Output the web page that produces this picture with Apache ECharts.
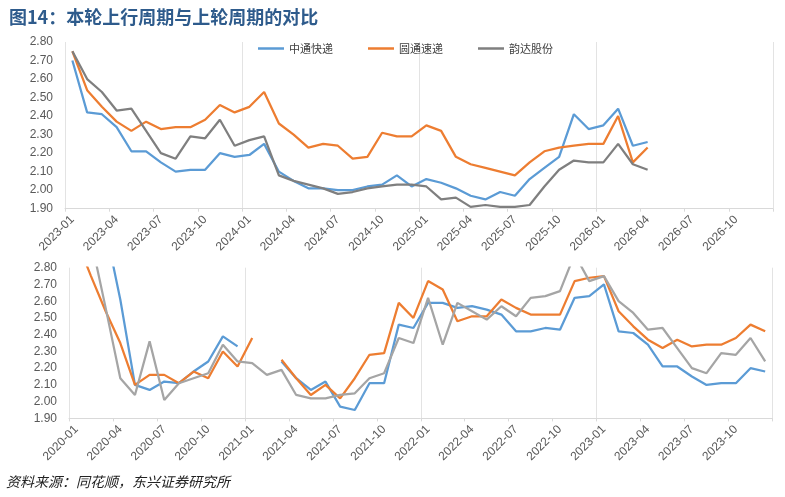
<!DOCTYPE html>
<html>
<head>
<meta charset="utf-8">
<script src="https://cdn.jsdelivr.net/npm/echarts@6/dist/echarts.min.js"></script>
<style>
html,body{margin:0;padding:0;background:#fff;}
#c{width:785px;height:497px;}
</style>
</head>
<body>
<div id="c"></div>
<script>
// ---- Data ----
var titleText = '图14：本轮上行周期与上轮周期的对比';
var sourceText = '资料来源：同花顺，东兴证券研究所';
var seriesNames = ['中通快递', '圆通速递', '韵达股份'];

// Top panel: 2023-01 .. 2026-12
var topMonths = [
 '2023-01','2023-02','2023-03','2023-04','2023-05','2023-06','2023-07','2023-08','2023-09','2023-10','2023-11','2023-12',
 '2024-01','2024-02','2024-03','2024-04','2024-05','2024-06','2024-07','2024-08','2024-09','2024-10','2024-11','2024-12',
 '2025-01','2025-02','2025-03','2025-04','2025-05','2025-06','2025-07','2025-08','2025-09','2025-10','2025-11','2025-12',
 '2026-01','2026-02','2026-03','2026-04','2026-05','2026-06','2026-07','2026-08','2026-09','2026-10','2026-11','2026-12'
];
var topZto = [
 2.70,2.42,2.41,2.34,2.21,2.21,2.15,2.10,2.11,2.11,2.20,2.18,
 2.19,2.25,2.10,2.05,2.01,2.01,2.00,2.00,2.02,2.03,2.08,2.02,
 2.06,2.04,2.01,1.97,1.95,1.99,1.97,2.06,2.12,2.18,2.41,2.33,
 2.35,2.44,2.24,2.26
];
var topYto = [
 2.75,2.54,2.45,2.37,2.32,2.37,2.33,2.34,2.34,2.38,2.46,2.42,
 2.45,2.53,2.36,2.30,2.23,2.25,2.24,2.17,2.18,2.31,2.29,2.29,
 2.35,2.32,2.18,2.14,2.12,2.10,2.08,2.15,2.21,2.23,2.24,2.25,
 2.25,2.40,2.15,2.23
];
var topYunda = [
 2.75,2.60,2.53,2.43,2.44,2.32,2.20,2.17,2.29,2.28,2.38,2.24,
 2.27,2.29,2.08,2.05,2.03,2.01,1.98,1.99,2.01,2.02,2.03,2.03,
 2.02,1.95,1.96,1.91,1.92,1.91,1.91,1.92,2.02,2.11,2.16,2.15,
 2.15,2.25,2.14,2.11
];

// Bottom panel: 2020-01 .. 2023-12
var botMonths = [
 '2020-01','2020-02','2020-03','2020-04','2020-05','2020-06','2020-07','2020-08','2020-09','2020-10','2020-11','2020-12',
 '2021-01','2021-02','2021-03','2021-04','2021-05','2021-06','2021-07','2021-08','2021-09','2021-10','2021-11','2021-12',
 '2022-01','2022-02','2022-03','2022-04','2022-05','2022-06','2022-07','2022-08','2022-09','2022-10','2022-11','2022-12',
 '2023-01','2023-02','2023-03','2023-04','2023-05','2023-06','2023-07','2023-08','2023-09','2023-10','2023-11','2023-12'
];
var botZto = [
 3.25,3.15,3.03,2.61,2.10,2.07,2.12,2.11,2.18,2.24,2.39,2.33,
 null,null,2.24,2.14,2.07,2.12,1.97,1.95,2.11,2.11,2.46,2.44,
 2.59,2.59,2.56,2.57,2.55,2.52,2.42,2.42,2.44,2.43,2.62,2.63,
 2.70,2.42,2.41,2.34,2.21,2.21,2.15,2.10,2.11,2.11,2.20,2.18
];
var botYto = [
 2.97,2.75,2.54,2.35,2.10,2.16,2.16,2.11,2.18,2.14,2.30,2.21,
 2.38,null,2.25,2.14,2.04,2.10,2.02,2.14,2.28,2.29,2.59,2.50,
 2.72,2.67,2.48,2.51,2.51,2.61,2.56,2.52,2.52,2.52,2.72,2.74,
 2.75,2.54,2.45,2.37,2.32,2.37,2.33,2.34,2.34,2.38,2.46,2.42
];
var botYunda = [
 3.05,2.97,2.56,2.14,2.04,2.36,2.01,2.11,2.14,2.17,2.34,2.24,
 2.23,2.16,2.19,2.04,2.02,2.02,2.04,2.05,2.14,2.17,2.38,2.35,
 2.62,2.34,2.59,2.54,2.49,2.57,2.51,2.62,2.63,2.66,2.88,2.72,
 2.75,2.60,2.53,2.43,2.44,2.32,2.20,2.17,2.29,2.28,2.38,2.24
];

// ---- Styles ----
var cBlue = '#5B9BD5', cOrange = '#ED7D31', cGrayDark = '#7F7F7F', cGrayLight = '#A5A5A5';
var gridLine = '#E3E3E3';
var labelColor = '#595959';
var numFont = '"Liberation Sans", Arial, sans-serif';

function xAxisCfg(gridIndex, cats) {
  return {
    type: 'category', gridIndex: gridIndex, data: cats, boundaryGap: true,
    axisLine: { show: true, lineStyle: { color: '#D9D9D9', width: 1 } },
    axisTick: { show: true, interval: 2, length: 3, lineStyle: { color: '#D9D9D9' } },
    axisLabel: { interval: 2, rotate: 45, color: labelColor, fontSize: 12, fontFamily: numFont, margin: 9 },
    splitLine: { show: true, interval: 11, lineStyle: { color: gridLine, width: 1 } }
  };
}
function yAxisCfg(gridIndex) {
  return {
    type: 'value', gridIndex: gridIndex, min: 1.9, max: 2.8, interval: 0.1,
    axisLine: { show: false }, axisTick: { show: false }, splitLine: { show: false },
    axisLabel: { color: labelColor, fontSize: 12, fontFamily: numFont, margin: 12,
      formatter: function (v) { return v.toFixed(2); } }
  };
}
function lineSeries(name, data, color, xi) {
  return {
    name: name, type: 'line', data: data, xAxisIndex: xi, yAxisIndex: xi,
    symbol: 'none', clip: true, connectNulls: false,
    lineStyle: { color: color, width: 2.25 }, itemStyle: { color: color }
  };
}

var chart = echarts.init(document.getElementById('c'), null, { renderer: 'canvas' });
chart.setOption({
  backgroundColor: '#ffffff',
  animation: false,
  title: {
    text: titleText, left: 4, top: 3,
    textStyle: { color: '#2E5B8C', fontSize: 18, fontWeight: 'bold', fontFamily: '"Noto Sans CJK SC", sans-serif' }
  },
  legend: {
    data: seriesNames, left: 253, top: 38, icon: 'rect', itemWidth: 26, itemHeight: 2.5, itemGap: 35,
    textStyle: { color: '#404040', fontSize: 11, fontFamily: '"Noto Sans CJK SC", sans-serif' }
  },
  grid: [
    { left: 65, right: 12, top: 42, height: 166.7 },
    { left: 69, right: 12.5, top: 267.7, height: 150.7 }
  ],
  xAxis: [xAxisCfg(0, topMonths), xAxisCfg(1, botMonths)],
  yAxis: [yAxisCfg(0), yAxisCfg(1)],
  series: [
    lineSeries(seriesNames[0], topZto, cBlue, 0),
    lineSeries(seriesNames[1], topYto, cOrange, 0),
    lineSeries(seriesNames[2], topYunda, cGrayDark, 0),
    lineSeries(seriesNames[0], botZto, cBlue, 1),
    lineSeries(seriesNames[1], botYto, cOrange, 1),
    lineSeries(seriesNames[2], botYunda, cGrayLight, 1)
  ],
  graphic: [{
    type: 'text', left: 6, top: 475,
    style: { text: sourceText, fill: '#222', font: 'italic 14px "Noto Sans CJK SC", sans-serif' }
  }]
});
</script>
</body>
</html>
